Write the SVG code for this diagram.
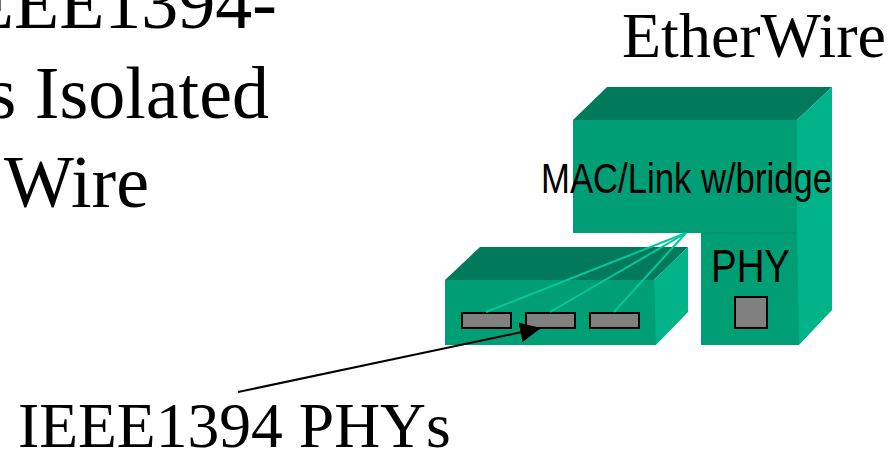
<svg xmlns="http://www.w3.org/2000/svg" width="892" height="451" viewBox="0 0 892 451">
<style>
.t{font-family:"Liberation Serif","Times New Roman",serif;font-size:64px;fill:#000}
.h{font-family:"Liberation Serif","Times New Roman",serif;font-size:74px;fill:#000;text-anchor:end}
.a{font-family:"Liberation Sans",Arial,sans-serif;fill:#000}
.front{fill:#009e75}.top{fill:#007a5b}.side{fill:#00b388}
.port{fill:#808080;stroke:#000;stroke-width:2}
.link{stroke:#00c99b;stroke-width:2;fill:none}
</style>
<defs><marker id="ah" markerUnits="userSpaceOnUse" markerWidth="24" markerHeight="22" refX="21" refY="10" orient="auto"><path d="M0 0L21 10L0 20Z" fill="#000"/></marker></defs>
<rect width="892" height="451" fill="#fff"/>
<g id="title-left">
<text class="h" x="277" y="28">EEE1394-</text>
<text class="h" x="269" y="117.5">s Isolated</text>
<text class="h" x="149" y="207">Wire</text>
</g>
<g id="label-etherwire"><text class="t" x="622" y="56.5">EtherWire</text></g>
<g id="etherwire-block">
<path class="top" d="M573 120L607 87H832L797 120Z"/>
<path class="side" d="M797 120L832 87V310L799 345H790V120Z"/>
<rect class="front" x="573" y="120" width="224" height="113"/>
<path class="front" d="M701 233H797L799 345H701Z"/>
<path d="M701 233H797" stroke="#008f6a" stroke-width="1" fill="none"/>
<text class="a" x="541" y="193" font-size="42" textLength="291" lengthAdjust="spacingAndGlyphs">MAC/Link w/bridge</text>
<text class="a" x="711" y="282" font-size="47" textLength="79" lengthAdjust="spacingAndGlyphs">PHY</text>
<rect class="port" x="735" y="297" width="32" height="31"/>
</g>
<g id="ieee-block">
<path class="top" d="M445 280L480 247H688L654 280Z"/>
<path class="side" d="M654 280L688 247V312L656 345H650V280Z"/>
<path class="front" d="M445 280H654L656 345H445Z"/>
<rect class="port" x="462" y="313" width="49" height="15"/>
<rect class="port" x="526" y="313" width="49" height="15"/>
<rect class="port" x="590" y="313" width="49" height="15"/>
</g>
<g id="connectors">
<path class="link" d="M686 233L486 312"/>
<path class="link" d="M686 233L550 312"/>
<path class="link" d="M686 233L614 312"/>
<path d="M238 392L541 328" stroke="#000" stroke-width="2" fill="none" marker-end="url(#ah)"/>
</g>
<g id="label-phys"><text class="t" style="font-size:63.6px" x="18" y="447">IEEE1394 PHYs</text></g>
</svg>
